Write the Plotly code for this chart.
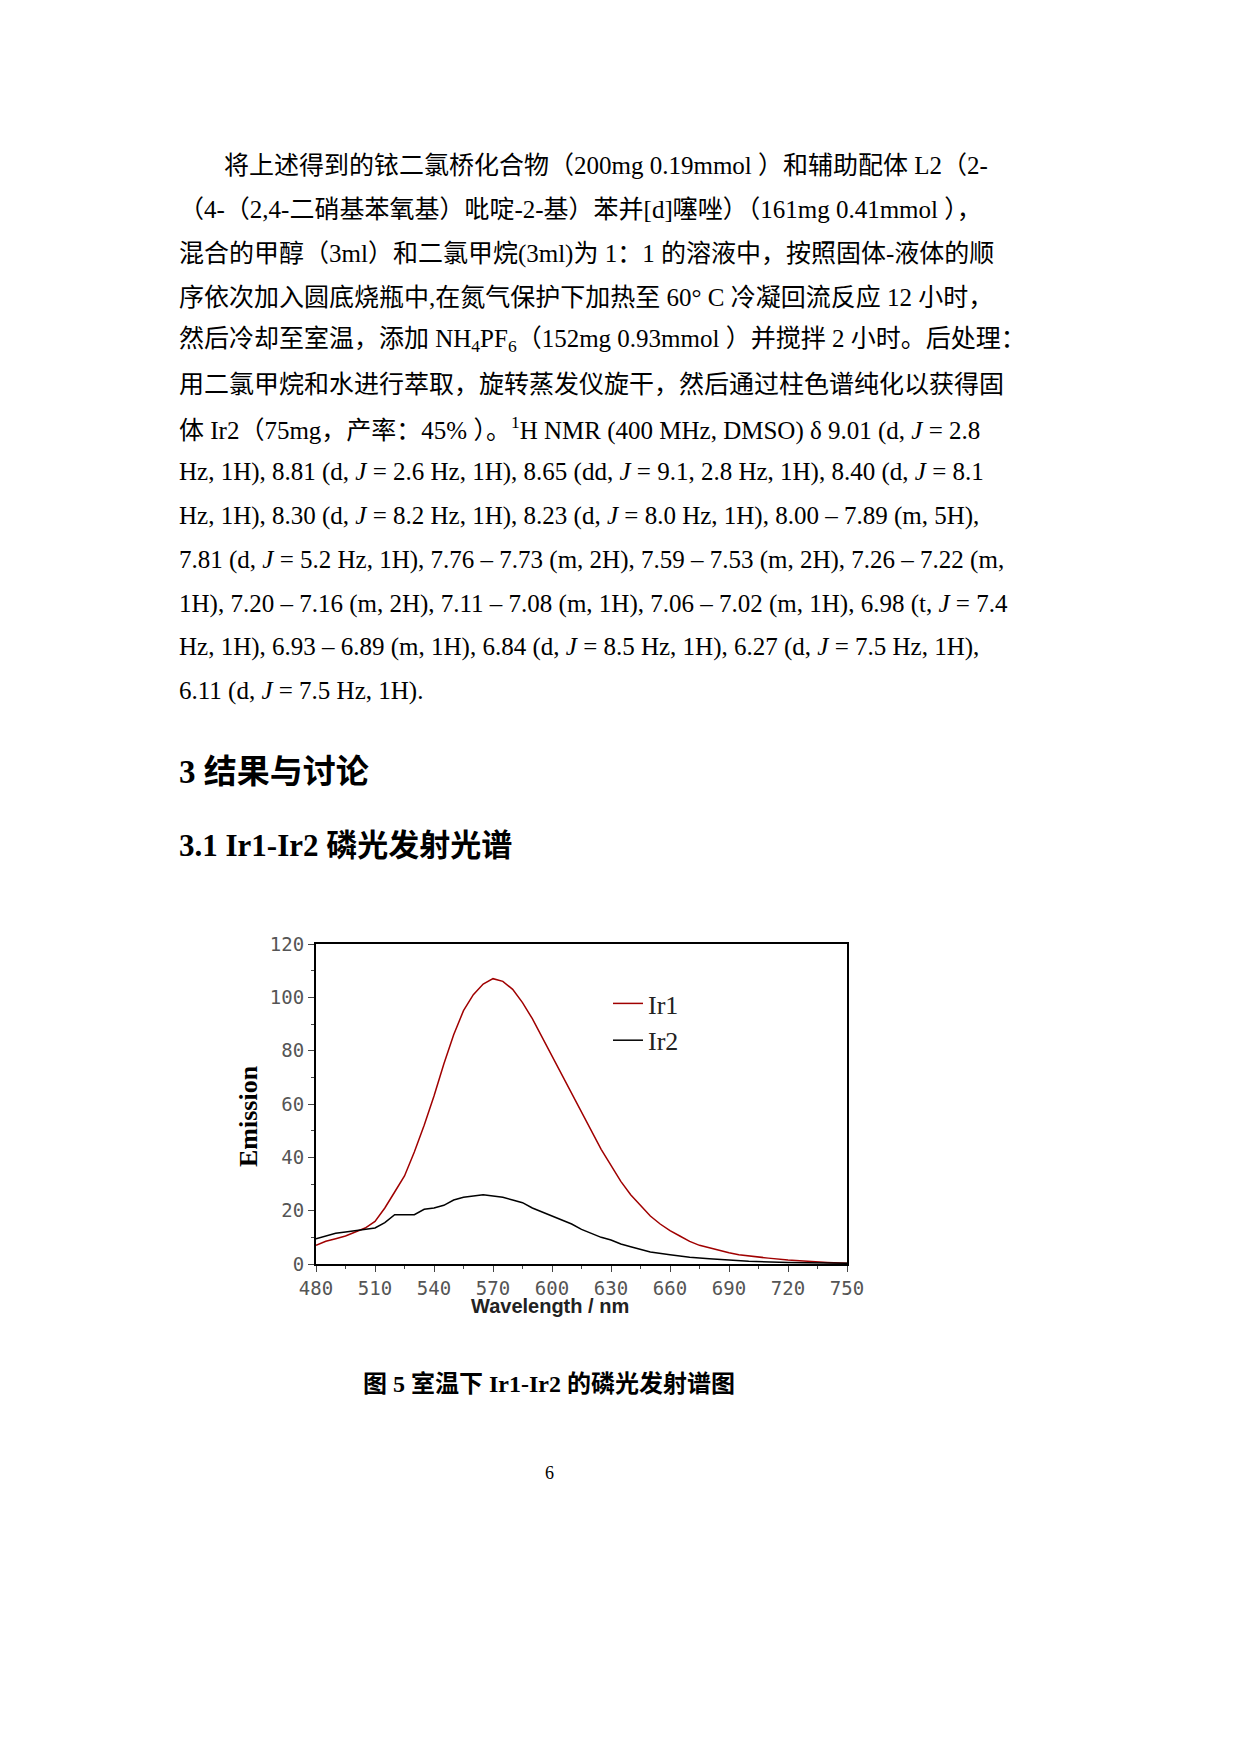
import plotly.graph_objects as go

wl1 = [480,485,490,495,500,505,510,515,520,525,530,535,540,545,550,555,560,565,570,575,580,585,590,595,600,605,610,615,620,625,630,635,640,645,650,655,660,665,670,675,680,685,690,695,700,710,720,730,740,750]
ir1 = [7,8.5,9.5,10.5,12,13.5,16,21,27,33,42,52,63,75,86,95,101,105,107,106,103,98,92,85,78,71,64,57,50,43,37,31,26,22,18,15,12.5,10.5,8.5,7,6,5,4.2,3.5,3,2.2,1.5,1,0.6,0.3]
wl2 = [480,485,490,495,500,505,510,515,520,525,530,535,540,545,550,555,560,565,570,575,580,585,590,595,600,605,610,615,620,625,630,635,640,645,650,660,670,680,690,700,720,750]
ir2 = [9.5,10.5,11.5,12,12.5,13,13.5,15.5,18.5,18.5,18.5,20.5,21,22,24,25,25.5,26,25.5,25,24,23,21,19.5,18,16.5,15,13,11.5,10,9,7.5,6.5,5.5,4.5,3.5,2.5,2,1.5,1,0.6,0.3]
x_ticks = [480,510,540,570,600,630,660,690,720,750]
y_ticks = [0,20,40,60,80,100,120]

body = [
    "将上述得到的铱二氯桥化合物（200mg 0.19mmol ）和辅助配体 L2（2-",
    "（4-（2,4-二硝基苯氧基）吡啶-2-基）苯并[d]噻唑）（161mg 0.41mmol ），",
    "混合的甲醇（3ml）和二氯甲烷(3ml)为 1：1 的溶液中，按照固体-液体的顺",
    "序依次加入圆底烧瓶中,在氮气保护下加热至 60° C 冷凝回流反应 12 小时，",
    "然后冷却至室温，添加 NH<sub>4</sub>PF<sub>6</sub>（152mg 0.93mmol ）并搅拌 2 小时。后处理：",
    "用二氯甲烷和水进行萃取，旋转蒸发仪旋干，然后通过柱色谱纯化以获得固",
    "体 Ir2（75mg，产率：45% ）。<sup>1</sup>H NMR (400 MHz, DMSO) δ 9.01 (d, <i>J</i> = 2.8",
    "Hz, 1H), 8.81 (d, <i>J</i> = 2.6 Hz, 1H), 8.65 (dd, <i>J</i> = 9.1, 2.8 Hz, 1H), 8.40 (d, <i>J</i> = 8.1",
    "Hz, 1H), 8.30 (d, <i>J</i> = 8.2 Hz, 1H), 8.23 (d, <i>J</i> = 8.0 Hz, 1H), 8.00 – 7.89 (m, 5H),",
    "7.81 (d, <i>J</i> = 5.2 Hz, 1H), 7.76 – 7.73 (m, 2H), 7.59 – 7.53 (m, 2H), 7.26 – 7.22 (m,",
    "1H), 7.20 – 7.16 (m, 2H), 7.11 – 7.08 (m, 1H), 7.06 – 7.02 (m, 1H), 6.98 (t, <i>J</i> = 7.4",
    "Hz, 1H), 6.93 – 6.89 (m, 1H), 6.84 (d, <i>J</i> = 8.5 Hz, 1H), 6.27 (d, <i>J</i> = 7.5 Hz, 1H),",
    "6.11 (d, <i>J</i> = 7.5 Hz, 1H).",
]

W, H = 1234, 1748
FONT = "Liberation Serif, Noto Sans CJK SC"

fig = go.Figure()
fig.add_trace(go.Scatter(x=wl1, y=ir1, mode="lines", name="Ir1",
                         line=dict(color="#a00000", width=1.5)))
fig.add_trace(go.Scatter(x=wl2, y=ir2, mode="lines", name="Ir2",
                         line=dict(color="black", width=1.5)))

def px(x): return x / W
def py(y): return 1 - y / H

ann = []
for i, t in enumerate(body):
    x0 = 214 if i == 0 else 169
    ann.append(dict(text=t, x=px(x0), y=py(158 + i * 43.75), xref="paper", yref="paper",
                    xanchor="left", yanchor="middle", showarrow=False,
                    font=dict(family=FONT, size=25, color="black")))
ann.append(dict(text="<b>3 结果与讨论</b>", x=px(169), y=py(764), xref="paper", yref="paper",
                xanchor="left", yanchor="middle", showarrow=False, font=dict(family=FONT, size=33, color="black")))
ann.append(dict(text="<b>3.1 Ir1-Ir2 磷光发射光谱</b>", x=px(169), y=py(838), xref="paper", yref="paper",
                xanchor="left", yanchor="middle", showarrow=False, font=dict(family=FONT, size=31, color="black")))
ann.append(dict(text="<b>图 5 室温下 Ir1-Ir2 的磷光发射谱图</b>", x=px(541), y=py(1375), xref="paper", yref="paper",
                xanchor="center", yanchor="middle", showarrow=False, font=dict(family=FONT, size=24, color="black")))
ann.append(dict(text="6", x=px(541), y=py(1465), xref="paper", yref="paper",
                xanchor="center", yanchor="middle", showarrow=False, font=dict(family=FONT, size=18, color="black")))
ann.append(dict(text="<b>Emission</b>", x=px(240), y=py(1108), xref="paper", yref="paper", textangle=-90,
                xanchor="center", yanchor="middle", showarrow=False, font=dict(family=FONT, size=26, color="black")))
ann.append(dict(text="<b>Wavelength / nm</b>", x=px(542), y=py(1298), xref="paper", yref="paper",
                xanchor="center", yanchor="middle", showarrow=False, font=dict(family="Liberation Sans", size=20, color="#222")))

fig.update_layout(
    width=W, height=H, paper_bgcolor="white", plot_bgcolor="white",
    margin=dict(l=0, r=0, t=0, b=0), annotations=ann,
    legend=dict(x=px(600), y=py(972), xanchor="left", yanchor="top", bgcolor="rgba(0,0,0,0)",
                font=dict(family="Liberation Serif", size=26, color="#222")),
    xaxis=dict(domain=[px(308), px(839)], range=[480, 750], tickvals=x_ticks, automargin=False,
               ticks="outside", ticklen=6, showline=True, linecolor="black", linewidth=2, mirror=True,
               showgrid=False, zeroline=False,
               minor=dict(ticks="outside", ticklen=3, dtick=15, tick0=480),
               tickfont=dict(family="DejaVu Sans Mono", size=19, color="#555")),
    yaxis=dict(domain=[py(1256), py(936)], range=[0, 120], tickvals=y_ticks, automargin=False,
               ticks="outside", ticklen=6, showline=True, linecolor="black", linewidth=2, mirror=True,
               showgrid=False, zeroline=False,
               minor=dict(ticks="outside", ticklen=3, dtick=10),
               tickfont=dict(family="DejaVu Sans Mono", size=19, color="#555")),
)
fig.write_html("out.html")
